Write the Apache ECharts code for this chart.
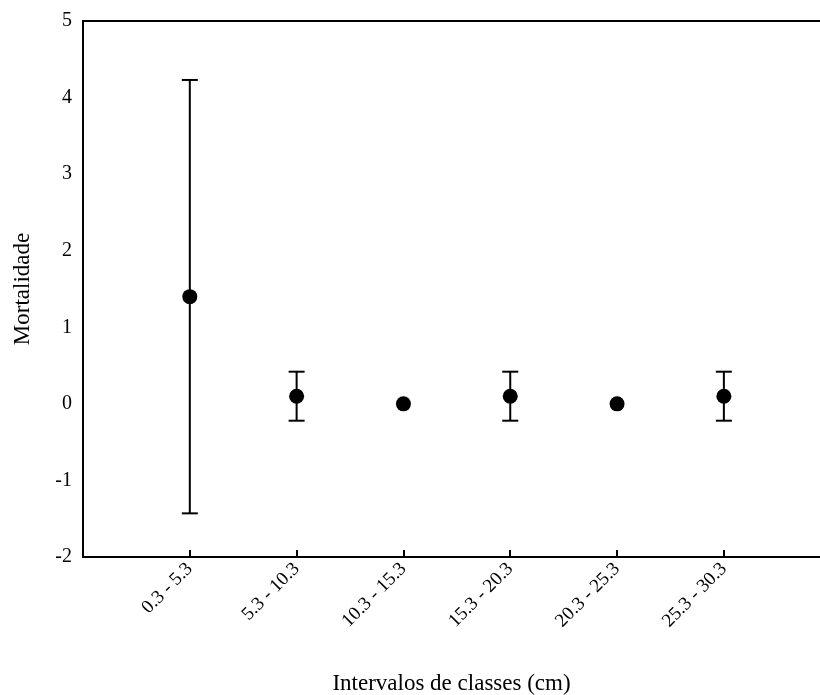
<!DOCTYPE html>
<html><head><meta charset="utf-8">
<script src="https://cdn.jsdelivr.net/npm/echarts@6/dist/echarts.min.js"></script>
<style>html,body{margin:0;padding:0;background:#fff}#c{width:820px;height:695px}</style>
</head><body><div id="c"></div>
<script>
const categories = ['0.3 - 5.3','5.3 - 10.3','10.3 - 15.3','15.3 - 20.3','20.3 - 25.3','25.3 - 30.3'];
const means = [1.4, 0.1, 0, 0.1, 0, 0.1];
const lower = [-1.43, -0.22, 0, -0.22, 0, -0.22];
const upper = [4.23, 0.42, 0, 0.42, 0, 0.42];
const yTicks = [-2, -1, 0, 1, 2, 3, 4, 5];

const font = 'Liberation Serif';
const chart = echarts.init(document.getElementById('c'));
const pts = categories.map((c, i) => [i + 1, means[i]]);
const errs = categories.map((c, i) => [i + 1, lower[i], upper[i]]).filter(d => d[1] !== d[2]);

chart.setOption({
  animation: false,
  grid: { left: 83, right: 0, top: 21, bottom: 138, containLabel: false, outerBoundsMode: 'none' },
  xAxis: [{
    type: 'value', min: 0, max: 6.9, interval: 1,
    axisLine: { show: true, onZero: false, lineStyle: { color: '#000', width: 2 } },
    axisTick: { show: true, inside: true, length: 7, lineStyle: { color: '#000', width: 2 } },
    splitLine: { show: false },
    axisLabel: {
      rotate: 45, margin: 9, color: '#000', fontFamily: font, fontSize: 19,
      showMaxLabel: false, showMinLabel: false,
      formatter: v => (v >= 1 && v <= categories.length) ? categories[v - 1] : ''
    },
    name: 'Intervalos de classes (cm)', nameLocation: 'middle', nameGap: 115,
    nameTextStyle: { color: '#000', fontFamily: font, fontSize: 23 }
  }, {
    type: 'value', position: 'top', min: 0, max: 6.9,
    axisLine: { show: true, onZero: false, lineStyle: { color: '#000', width: 2 } },
    axisTick: { show: false }, axisLabel: { show: false }, splitLine: { show: false }
  }],
  yAxis: {
    type: 'value', min: yTicks[0], max: yTicks[yTicks.length - 1], interval: 1,
    axisLine: { show: true, onZero: false, lineStyle: { color: '#000', width: 2 } },
    axisTick: { show: false },
    splitLine: { show: false },
    axisLabel: { color: '#000', fontFamily: font, fontSize: 20, margin: 11 },
    name: 'Mortalidade', nameLocation: 'middle', nameGap: 49,
    nameTextStyle: { color: '#000', fontFamily: font, fontSize: 23 }
  },
  series: [{
    type: 'custom',
    data: errs,
    renderItem: (params, api) => {
      const x = api.value(0);
      const lo = api.coord([x, api.value(1)]);
      const hi = api.coord([x, api.value(2)]);
      const hw = 8;
      const st = { stroke: '#000', lineWidth: 2 };
      return { type: 'group', children: [
        { type: 'line', shape: { x1: lo[0], y1: lo[1], x2: hi[0], y2: hi[1] }, style: st },
        { type: 'line', shape: { x1: lo[0] - hw, y1: lo[1], x2: lo[0] + hw, y2: lo[1] }, style: st },
        { type: 'line', shape: { x1: hi[0] - hw, y1: hi[1], x2: hi[0] + hw, y2: hi[1] }, style: st }
      ]};
    },
    z: 2
  }, {
    type: 'scatter', data: pts, symbol: 'circle', symbolSize: 15,
    itemStyle: { color: '#000', opacity: 1 }, z: 3
  }]
});
</script></body></html>
